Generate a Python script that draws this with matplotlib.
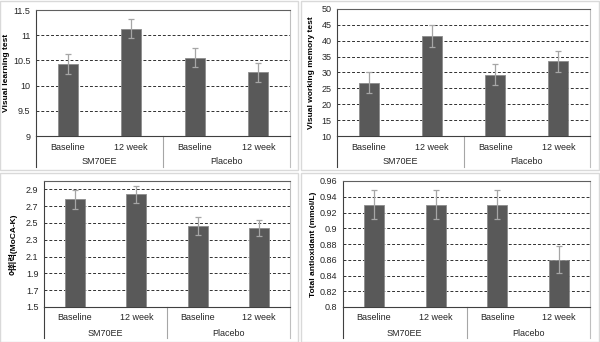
import matplotlib
matplotlib.use("Agg")
import matplotlib.pyplot as plt
import matplotlib.patches as patches
import numpy as np

plt.rcParams['font.family'] = ['Liberation Sans', 'Noto Sans CJK KR', 'DejaVu Sans']

categories = ["Baseline", "12 week", "Baseline", "12 week"]
groups = ["SM70EE", "Placebo"]

visual_learning = [10.43, 11.13, 10.55, 10.26]
visual_learning_err = [0.19, 0.19, 0.19, 0.19]

working_memory = [26.8, 41.5, 29.3, 33.5]
working_memory_err = [3.3, 3.5, 3.3, 3.4]

vocabulary = [2.78, 2.84, 2.465, 2.44]
vocabulary_err = [0.11, 0.10, 0.11, 0.10]

antioxidant = [0.93, 0.93, 0.93, 0.86]
antioxidant_err = [0.018, 0.018, 0.018, 0.017]

W, H = 600, 342
fig = plt.figure(figsize=(6, 3.42), dpi=100)

# ramki paneli (piksele, początek w lewym górnym rogu)
for (x0, y0) in [(0, 0), (301, 0), (0, 172), (301, 172)]:
	fig.patches.append(patches.Rectangle(
		(x0 / W, 1 - (y0 + 170) / H), 298 / W, 169 / H,
		transform=fig.transFigure, facecolor='none',
		edgecolor='#d9d9d9', linewidth=1.0, zorder=-1))


def make_panel(rect, values, errs, ylim, step, ylabel, labelx, fmt="{:g}"):
	left, right, top, bottom = rect
	ax = fig.add_axes([left / W, 1 - bottom / H, (right - left) / W, (bottom - top) / H])
	ax.patch.set_alpha(0)
	h_px = bottom - top
	x = np.arange(len(values))
	ax.bar(x, values, width=0.32, color='#595959', edgecolor='#8c8c8c',
		linewidth=0.6, zorder=3)
	ax.errorbar(x, values, yerr=errs, fmt='none', ecolor='#a6a6a6',
		elinewidth=0.9, capsize=2, capthick=0.9, zorder=4)
	ax.set_xlim(-0.5, 3.5)
	ax.set_ylim(*ylim)
	ticks = np.arange(ylim[0], ylim[1] + step * 0.01, step)
	ticks = ticks[ticks <= ylim[1] + 1e-9]
	ax.set_yticks(ticks)
	ax.set_yticklabels([fmt.format(round(t, 3)) for t in ticks], fontsize=6.5,
		color='#262626')
	ax.tick_params(axis='y', length=0, pad=4)
	ax.set_xticks([])
	for t in ticks[1:]:
		if t < ylim[1] - 1e-9:
			ax.axhline(t, color='#303030', linewidth=0.7, linestyle=(0, (3, 2)), zorder=1)
	ax.spines['left'].set_color('#404040')
	ax.spines['bottom'].set_color('#404040')
	ax.spines['top'].set_color('#606060')
	ax.spines['right'].set_color('#bfbfbf')
	for s in ax.spines.values():
		s.set_linewidth(0.8)
	ax.set_ylabel(ylabel, fontsize=6, fontweight='bold')
	ax.yaxis.set_label_coords(labelx, 0.5)

	trans = ax.get_xaxis_transform()
	for xi, c in zip(x, categories):
		ax.text(xi, -11 / h_px, c, transform=trans, ha='center', va='center',
			fontsize=6.5, color='#262626')
	for gi, g in enumerate(groups):
		ax.text(gi * 2 + 0.5, -26 / h_px, g, transform=trans, ha='center',
			va='center', fontsize=6.5, color='#262626')
	for xs, col in [(-0.5, '#404040'), (1.5, '#a6a6a6'), (3.5, '#bfbfbf')]:
		ax.plot([xs, xs], [0, -31 / h_px], transform=trans, color=col,
			linewidth=0.8, clip_on=False)
	return ax


make_panel((36, 290, 10, 136), visual_learning, visual_learning_err,
	(9, 11.5), 0.5, "Visual learning test", -0.102)
make_panel((337, 590, 9, 136), working_memory, working_memory_err,
	(10, 50), 5, "Visual working memory test", -0.087)
make_panel((44, 290, 181, 307), vocabulary, vocabulary_err,
	(1.5, 3.0), 0.2, "어휘력(MoCA-K)", -0.106, fmt="{:.1f}")
make_panel((343, 590, 181, 307), antioxidant, antioxidant_err,
	(0.8, 0.96), 0.02, "Total antioxidant (mmol/L)", -0.105)

fig.savefig("out.png", dpi=100)
